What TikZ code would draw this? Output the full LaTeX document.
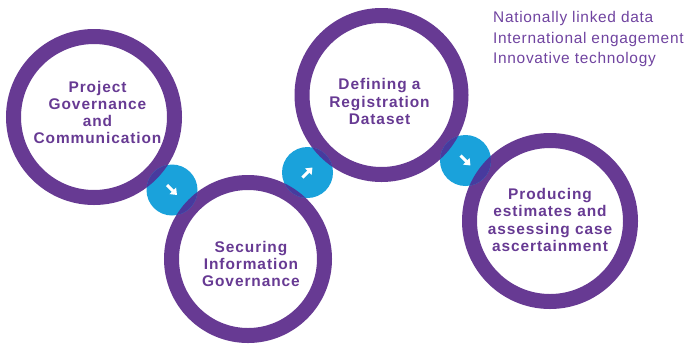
\documentclass[tikz,border=0pt]{standalone}
\usepackage{fontspec}
\setmainfont{Liberation Sans}
\newfontfamily\titlesans[LetterSpace=6]{Liberation Sans}
\newfontfamily\listsans[LetterSpace=4.5]{Liberation Sans}
\usetikzlibrary{arrows.meta}
\definecolor{ringpurple}{RGB}{103,58,147}
\definecolor{notepurple}{RGB}{112,68,160}
\definecolor{stepblue}{RGB}{26,162,219}
\definecolor{mixblue}{RGB}{72,58,158}
\begin{document}
\begin{tikzpicture}[x=1bp,y=-1bp,
  ring/.style={circle, draw=ringpurple, line width=15bp, inner sep=0pt, outer sep=0pt},
  bubble/.style={circle, fill=stepblue, minimum size=51bp, inner sep=0pt, outer sep=0pt},
  mix/.style={mixblue, line width=15bp},
  stagelabel/.style={text=ringpurple, align=center, inner sep=0pt,
    font=\titlesans\bfseries\fontsize{15.5}{17.2}\selectfont},
  note/.style={text=notepurple, anchor=base west, inner sep=0pt,
    font=\listsans\fontsize{15.5}{20}\selectfont},
  pointer/.style={white, line width=3bp, -{Triangle[length=6bp,width=9bp]}}
]
\useasboundingbox (0,0) rectangle (691,343);

% stage rings (outer radius = minimum size/2 + half the line width)
\node[ring, minimum size=161bp] (c1) at (94,117) {};
\node[ring, minimum size=153bp] (c2) at (248,259) {};
\node[ring, minimum size=159bp] (c3) at (381.5,95) {};
\node[ring, minimum size=161bp] (c4) at (550,221) {};

% step bubbles between the rings
\node[bubble] (b1) at (172,190) {};
\node[bubble] (b2) at (307.5,172.5) {};
\node[bubble] (b3) at (465.5,160.5) {};

% where a bubble covers a ring the two colours mix
\begin{scope}
  \clip (b1.center) circle (25.5bp);
  \draw[mix] (c1.center) circle (80.5bp);
  \draw[mix] (c2.center) circle (76.5bp);
\end{scope}
\begin{scope}
  \clip (b2.center) circle (25.5bp);
  \draw[mix] (c2.center) circle (76.5bp);
  \draw[mix] (c3.center) circle (79.5bp);
\end{scope}
\begin{scope}
  \clip (b3.center) circle (25.5bp);
  \draw[mix] (c3.center) circle (79.5bp);
  \draw[mix] (c4.center) circle (80.5bp);
\end{scope}

% arrows inside the bubbles
\draw[pointer] ([shift={(-5,-5)}]b1.center) -- ([shift={(5,5)}]b1.center);
\draw[pointer] ([shift={(-5,5)}]b2.center) -- ([shift={(5,-5)}]b2.center);
\draw[pointer] ([shift={(-5,-5)}]b3.center) -- ([shift={(5,5)}]b3.center);

% stage titles
\node[stagelabel] (t1) at (97.5,112.5) {Project\\Governance\\and\\Communication};
\node[stagelabel] (t2) at (251,264) {Securing\\Information\\Governance};
\node[stagelabel] (t3) at (379.5,101.5) {Defining a\\Registration\\Dataset};
\node[stagelabel] (t4) at (550,220) {Producing\\estimates and\\assessing case\\ascertainment};

% themes list
\node[note] (n1) at (493,22.5) {Nationally linked data};
\node[note] (n2) at (493,43) {International engagement};
\node[note] (n3) at (493,63.5) {Innovative technology};
\end{tikzpicture}
\end{document}
